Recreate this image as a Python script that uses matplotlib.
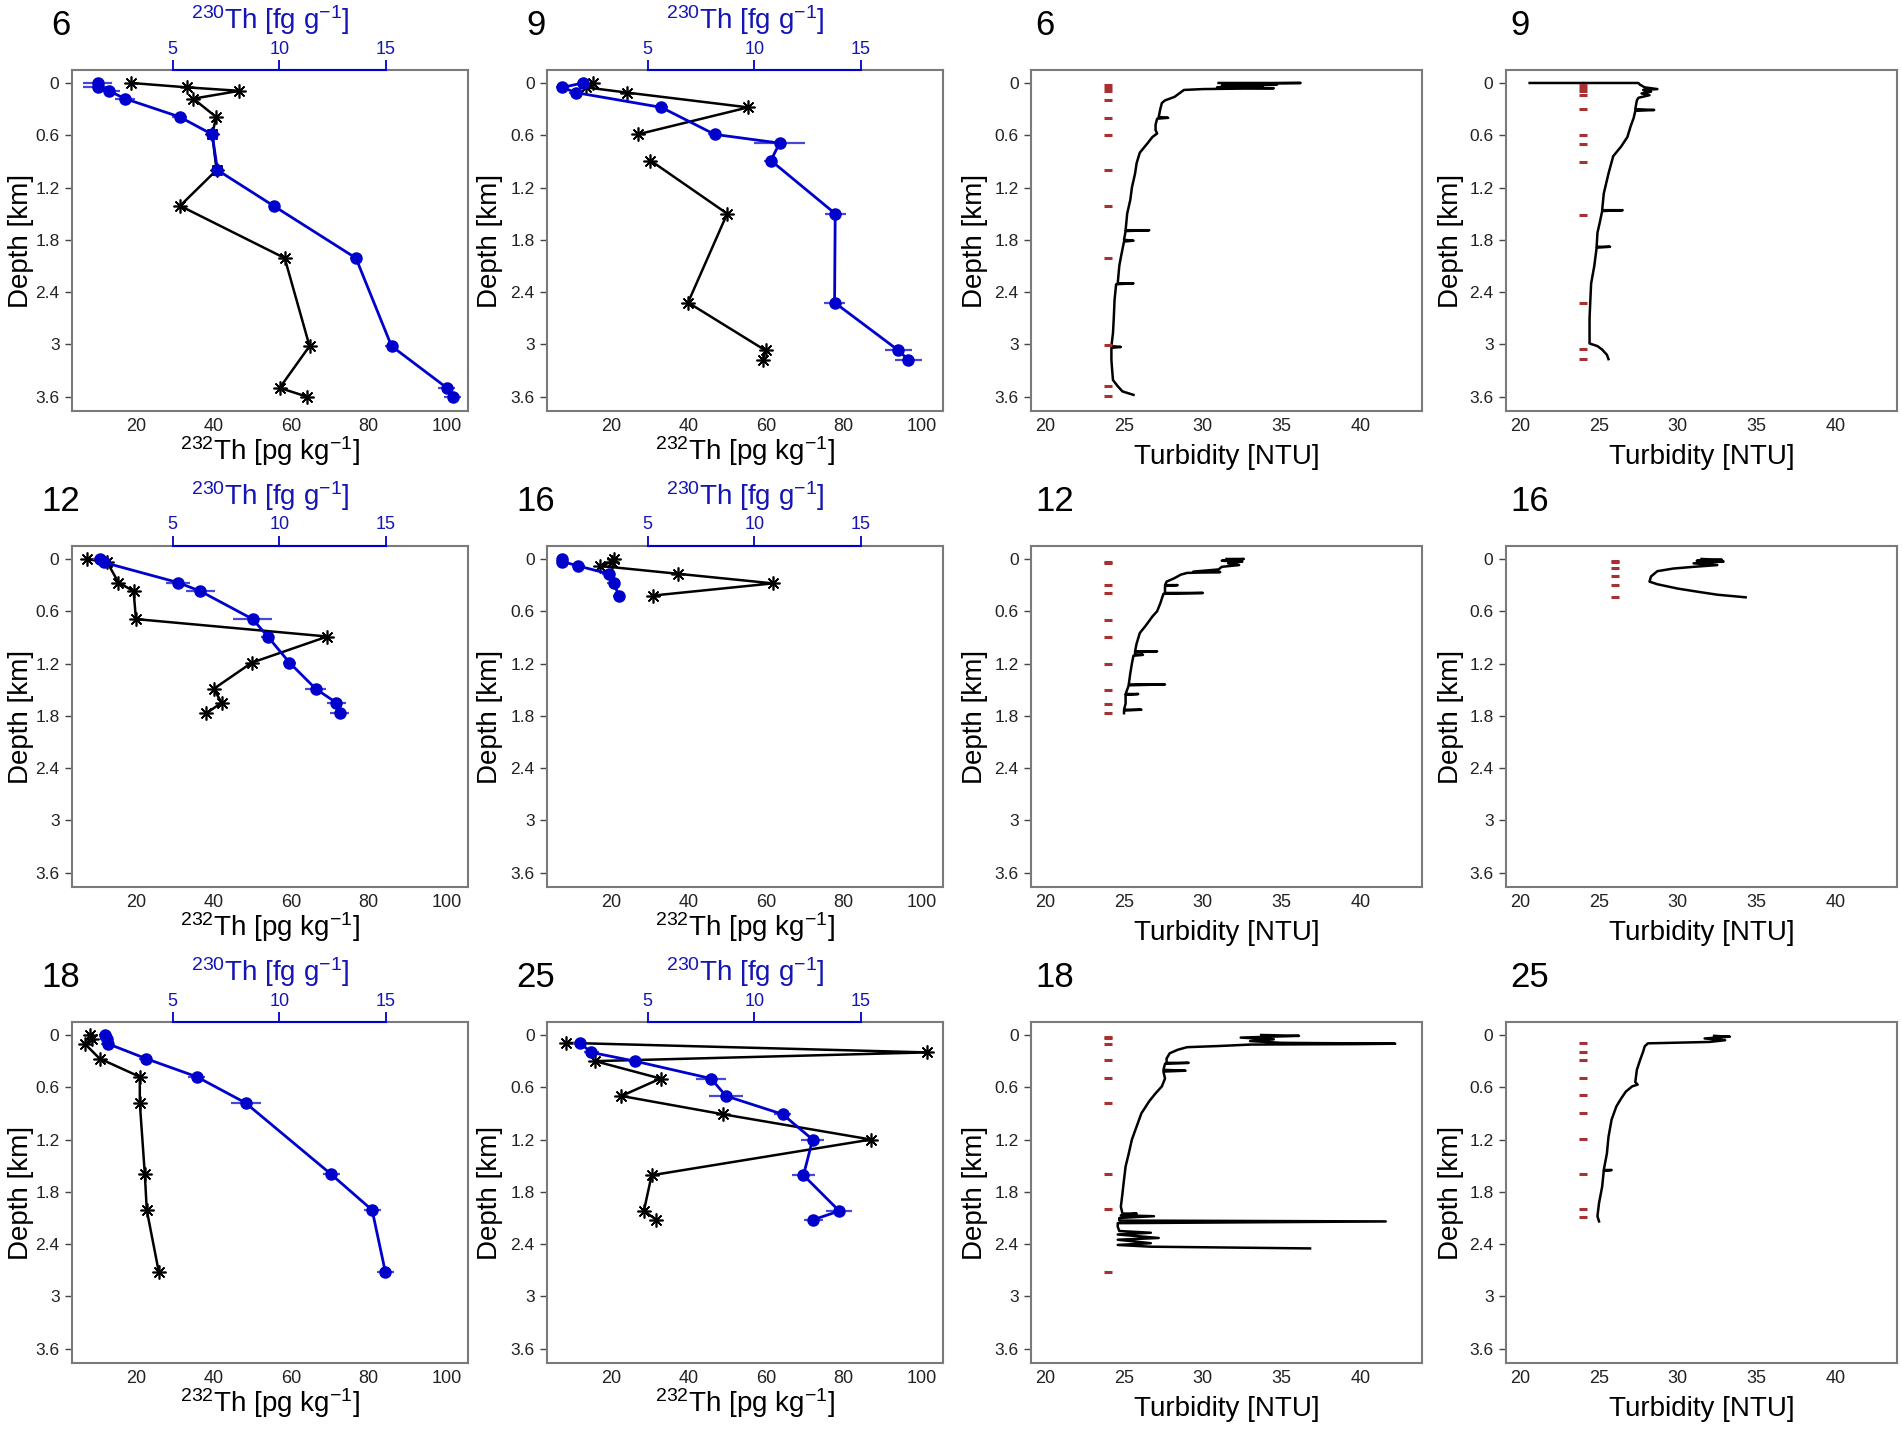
import numpy as np
import matplotlib.pyplot as plt

plt.rcParams['font.family'] = ['Liberation Sans', 'DejaVu Sans']
plt.rcParams['mathtext.default'] = 'regular'

nan = np.nan

# --- Th profiles (depth km, 232Th pg/kg, 230Th fg/g, 230Th error) ---
th6_depth = [0.0, 0.05, 0.09, 0.18, 0.39, 0.59, 1.0, 1.41, 2.01, 3.02, 3.5, 3.6]
th6_232 = [18.7, 33.0, 46.6, 34.7, 40.6, 39.6, 40.7, 31.3, 58.3, 64.7, 57.0, 64.0]
th6_230 = [1.47, 1.47, 2.0, 2.76, 5.33, 6.85, 7.1, 9.73, 13.6, 15.27, 17.87, 18.15]
th6_err = [0.7, 0.7, 0.5, 0.45, 0.35, 0.25, 0.2, 0.2, 0.3, 0.3, 0.4, 0.4]

th9_depth = [0.0, 0.05, 0.11, 0.28, 0.59, 0.69, 0.89, 1.50, 2.52, 3.07, 3.18]
th9_232 = [15.2, 13.4, 24.0, 55.3, 26.8, nan, 30.1, 49.9, 39.8, 59.8, 59.1]
th9_230 = [1.97, 0.99, 1.61, 5.64, 8.14, 11.19, 10.78, 13.8, 13.77, 16.77, 17.24]
th9_err = [0.3, 0.3, 0.3, 0.3, 0.3, 1.2, 0.3, 0.5, 0.5, 0.65, 0.65]

th12_depth = [0.0, 0.04, 0.27, 0.37, 0.69, 0.89, 1.19, 1.49, 1.65, 1.77]
th12_232 = [7.2, 12.5, 15.4, 19.3, 19.9, 69.3, 49.8, 40.0, 42.0, 38.1]
th12_230 = [1.57, 1.77, 5.24, 6.3, 8.75, 9.46, 10.48, 11.71, 12.68, 12.84]
th12_err = [0.3, 0.3, 0.57, 0.7, 0.9, 0.3, 0.3, 0.5, 0.45, 0.45]

th16_depth = [0.0, 0.03, 0.08, 0.17, 0.28, 0.42]
th16_232 = [20.6, 20.3, 17.1, 37.2, 61.7, 30.7]
th16_230 = [0.99, 0.99, 1.74, 3.16, 3.40, 3.65]
th16_err = [0.25, 0.25, 0.3, 0.3, 0.3, 0.3]

th18_depth = [0.0, 0.05, 0.1, 0.27, 0.48, 0.78, 1.6, 2.01, 2.72]
th18_232 = [8.0, 8.6, 6.7, 10.5, 20.9, 20.9, 22.2, 22.7, 25.8]
th18_230 = [1.84, 1.9, 1.95, 3.73, 6.13, 8.42, 12.44, 14.36, 14.98]
th18_err = [0.3, 0.3, 0.3, 0.3, 0.4, 0.7, 0.4, 0.4, 0.4]

th25_depth = [0.09, 0.2, 0.3, 0.5, 0.7, 0.91, 1.2, 1.61, 2.02, 2.12]
th25_232 = [8.2, 101.4, 15.8, 32.7, 22.6, 48.8, 87.0, 30.4, 28.4, 31.6]
th25_230 = [1.80, 2.35, 4.39, 7.97, 8.67, 11.33, 12.74, 12.31, 13.99, 12.78]
th25_err = [0.3, 0.35, 0.3, 0.7, 0.8, 0.4, 0.55, 0.55, 0.6, 0.45]

# --- turbidity profiles (depth km, NTU) ---
tb6_depth = [0.00, 0.00, 0.01, 0.02, 0.03, 0.04, 0.05, 0.06, 0.07, 0.08, 0.12, 0.16, 0.20, 0.23,
             0.30, 0.39, 0.40, 0.41, 0.48, 0.54, 0.58, 0.62, 0.69, 0.80, 0.92, 1.04, 1.20, 1.34,
             1.50, 1.69, 1.69, 1.70, 1.80, 1.81, 1.82, 2.00, 2.10, 2.30, 2.30, 2.31, 2.49, 2.70,
             2.87, 3.02, 3.03, 3.04, 3.18, 3.30, 3.41, 3.48, 3.54, 3.58]
tb6_ntu = [31.0, 36.2, 31.5, 34.7, 31.2, 33.8, 30.9, 34.5, 30.0, 28.8, 28.5, 28.2, 27.6, 27.4,
           27.3, 27.2, 27.8, 27.1, 27.0, 27.0, 27.1, 26.8, 26.5, 26.0, 25.8, 25.7, 25.5, 25.4,
           25.2, 25.1, 26.6, 25.1, 25.0, 25.6, 25.0, 24.8, 24.7, 24.6, 25.6, 24.5, 24.4, 24.35,
           24.3, 24.2, 24.8, 24.2, 24.2, 24.25, 24.3, 24.6, 24.9, 25.6]

tb9_depth = [0.00, 0.00, 0.02, 0.05, 0.07, 0.08, 0.10, 0.12, 0.14, 0.17, 0.20, 0.30, 0.31, 0.32,
             0.40, 0.50, 0.62, 0.73, 0.84, 1.04, 1.27, 1.46, 1.46, 1.47, 1.60, 1.72, 1.88, 1.88,
             1.89, 2.10, 2.30, 2.49, 2.70, 2.87, 2.99, 3.02, 3.06, 3.12, 3.17]
tb9_ntu = [20.6, 27.5, 27.6, 27.9, 28.7, 27.8, 28.3, 27.7, 28.2, 27.5, 27.4, 27.3, 28.5, 27.3,
           27.2, 27.0, 26.8, 26.4, 25.9, 25.6, 25.3, 25.2, 26.5, 25.2, 25.05, 24.9, 24.85, 25.7,
           24.85, 24.7, 24.5, 24.45, 24.4, 24.4, 24.4, 24.9, 25.2, 25.5, 25.6]

tb12_depth = [0.00, 0.00, 0.02, 0.03, 0.05, 0.07, 0.09, 0.12, 0.145, 0.15, 0.16, 0.18, 0.22, 0.26,
              0.30, 0.30, 0.31, 0.39, 0.39, 0.40, 0.51, 0.60, 0.66, 0.76, 0.85, 0.97, 1.06, 1.06,
              1.07, 1.10, 1.10, 1.11, 1.20, 1.31, 1.44, 1.44, 1.45, 1.55, 1.55, 1.56, 1.66, 1.73,
              1.73, 1.74, 1.77]
tb12_ntu = [31.5, 32.6, 31.2, 32.5, 31.6, 32.3, 31.2, 31.0, 29.4, 31.1, 29.0, 28.6, 28.2, 27.7,
            27.6, 28.4, 27.6, 27.6, 30.0, 27.5, 27.3, 27.1, 26.8, 26.4, 26.0, 25.8, 25.7, 27.1,
            25.7, 25.7, 26.2, 25.6, 25.5, 25.4, 25.3, 27.6, 25.3, 25.1, 25.9, 25.1, 25.1, 25.0,
            26.1, 25.0, 25.0]

tb16_depth = [0.00, 0.01, 0.02, 0.03, 0.05, 0.07, 0.09, 0.11, 0.14, 0.20, 0.26, 0.29, 0.34, 0.38,
              0.41, 0.44]
tb16_ntu = [31.5, 32.8, 31.2, 32.9, 31.0, 32.5, 31.0, 29.7, 28.7, 28.3, 28.2, 28.7, 30.0, 31.4,
            32.5, 34.3]

tb18_depth = [0.00, 0.01, 0.03, 0.05, 0.07, 0.09, 0.10, 0.105, 0.11, 0.126, 0.14, 0.17, 0.21, 0.27,
              0.32, 0.32, 0.33, 0.40, 0.41, 0.42, 0.50, 0.59, 0.67, 0.76, 0.90, 1.05, 1.20, 1.36,
              1.51, 1.66, 1.82, 1.97, 2.05, 2.05, 2.07, 2.08, 2.10, 2.13, 2.14, 2.16, 2.20, 2.25,
              2.27, 2.29, 2.33, 2.35, 2.39, 2.41, 2.43, 2.45]
tb18_ntu = [33.7, 36.1, 32.4, 34.5, 33.0, 35.0, 42.2, 39.7, 33.0, 31.1, 29.0, 28.4, 27.9, 27.7,
            27.7, 29.1, 27.6, 27.5, 28.9, 27.5, 27.6, 27.4, 27.0, 26.6, 26.1, 25.8, 25.5, 25.3,
            25.1, 25.0, 24.9, 24.8, 24.9, 25.8, 24.8, 26.9, 24.7, 24.7, 41.6, 24.6, 24.6, 24.7,
            26.7, 24.6, 27.2, 24.6, 26.7, 24.6, 26.7, 36.8]

tb25_depth = [0.01, 0.02, 0.04, 0.06, 0.08, 0.096, 0.13, 0.19, 0.29, 0.40, 0.54, 0.57, 0.59, 0.65,
              0.73, 0.82, 0.97, 1.17, 1.36, 1.55, 1.55, 1.56, 1.74, 1.93, 2.08, 2.14]
tb25_ntu = [32.3, 33.3, 31.7, 33.0, 32.0, 28.1, 27.9, 27.8, 27.6, 27.4, 27.3, 27.45, 27.1, 26.7,
            26.4, 26.1, 25.8, 25.6, 25.5, 25.3, 25.8, 25.3, 25.2, 25.0, 24.9, 25.0]

# sample depths shown as red dashes on the turbidity panels
smp6 = [0.02, 0.06, 0.09, 0.19, 0.40, 0.60, 1.0, 1.41, 2.01, 3.01, 3.48, 3.59]
smp9 = [0.02, 0.06, 0.09, 0.14, 0.30, 0.60, 0.70, 0.91, 1.51, 2.52, 3.05, 3.17]
smp12 = [0.03, 0.05, 0.30, 0.39, 0.70, 0.90, 1.20, 1.50, 1.67, 1.77]
smp16 = [0.02, 0.04, 0.10, 0.19, 0.30, 0.44]
smp18 = [0.02, 0.04, 0.10, 0.29, 0.49, 0.78, 1.59, 2.0, 2.72]
smp25 = [0.09, 0.19, 0.29, 0.49, 0.69, 0.90, 1.19, 1.59, 2.0, 2.09]
smp_ntu = {'6': 24, '9': 24, '12': 24, '16': 26, '18': 24, '25': 24}

stations = ['6', '9', '12', '16', '18', '25']
th_data = {
    '6': (th6_depth, th6_232, th6_230, th6_err),
    '9': (th9_depth, th9_232, th9_230, th9_err),
    '12': (th12_depth, th12_232, th12_230, th12_err),
    '16': (th16_depth, th16_232, th16_230, th16_err),
    '18': (th18_depth, th18_232, th18_230, th18_err),
    '25': (th25_depth, th25_232, th25_230, th25_err),
}
tb_data = {
    '6': (tb6_depth, tb6_ntu, smp6), '9': (tb9_depth, tb9_ntu, smp9),
    '12': (tb12_depth, tb12_ntu, smp12), '16': (tb16_depth, tb16_ntu, smp16),
    '18': (tb18_depth, tb18_ntu, smp18), '25': (tb25_depth, tb25_ntu, smp25),
}

depth_ticks = [0, 0.6, 1.2, 1.8, 2.4, 3.0, 3.6]
depth_labels = ['0', '0.6', '1.2', '1.8', '2.4', '3', '3.6']

W, H = 1902, 1432
BLUE = '#0000CD'
BLUE_TXT = '#1515B5'
GRID = '#7a7a7a'

fig = plt.figure(figsize=(W / 100, H / 100), dpi=100)

col_x = [72, 547, 1031, 1506]
col_w = [396, 396, 391, 391]
row_top = [70, 546, 1022]
ax_h = 341


def px(x, y):
    return x / W, 1 - y / H


def base_axes(c, r):
    l, _ = px(col_x[c], 0)
    b = 1 - (row_top[r] + ax_h) / H
    ax = fig.add_axes([l, b, col_w[c] / W, ax_h / H])
    for s in ax.spines.values():
        s.set_color(GRID)
        s.set_linewidth(1.5)
    ax.set_ylim(3.765, -0.149)
    ax.set_yticks(depth_ticks)
    ax.set_yticklabels(depth_labels)
    ax.tick_params(axis='y', length=5, width=1, pad=4, labelsize=12.5, color='#444444', labelcolor='#222222')
    ax.tick_params(axis='x', length=0, pad=5, labelsize=13, labelcolor='#222222')
    return ax


for i, st in enumerate(stations):
    r = i // 2
    # Th panel
    c = i % 2
    d, t232, t230, err = th_data[st]
    ax = base_axes(c, r)
    ax.set_xlim(3.4, 105.6)
    ax.set_xticks([20, 40, 60, 80, 100])
    ax.plot(t232, d, color='black', lw=1.8, marker=(8, 2, 0), ms=10, mew=1.2)
    ax2 = ax.twiny()
    ax2.set_xlim(0.27, 18.86)
    ax2.set_xticks([5, 10, 15])
    for s in ['left', 'right', 'bottom']:
        ax2.spines[s].set_visible(False)
    ax2.spines['top'].set_color(BLUE)
    ax2.spines['top'].set_linewidth(1.5)
    ax2.spines['top'].set_bounds(5, 15)
    ax2.tick_params(axis='x', length=7, width=1.3, pad=2, labelsize=13, color=BLUE, labelcolor=BLUE_TXT)
    ax2.errorbar(t230, d, xerr=err, fmt='none', ecolor='#4848D8', elinewidth=1.6)
    ax2.plot(t230, d, color=BLUE, lw=2, marker='o', ms=8)

    xc = col_x[c] + col_w[c] / 2
    yt = row_top[r]
    fig.text(*px(xc, yt - 50), r'$^{230}$Th [fg g$^{-1}$]', color=BLUE_TXT, fontsize=20,
             ha='center', va='center')
    fig.text(*px(xc, yt + ax_h + 40), r'$^{232}$Th [pg kg$^{-1}$]', fontsize=20,
             ha='center', va='center')
    fig.text(*px([21, 490][c], yt + ax_h / 2), 'Depth [km]', fontsize=20, rotation=90,
             ha='center', va='center')
    fig.text(*px([61, 536][c], yt - 35), st, fontsize=25, ha='center', va='baseline')

    # turbidity panel
    c = 2 + i % 2
    td, ntu, smp = tb_data[st]
    ax = base_axes(c, r)
    ax.set_xlim(19.1, 43.9)
    ax.set_xticks([20, 25, 30, 35, 40])
    ax.plot(ntu, td, color='black', lw=1.8)
    ax.plot([smp_ntu[st]] * len(smp), smp, ls='none', marker='_', ms=6, mew=2.2, color='#A83030')

    xc = col_x[c] + col_w[c] / 2
    fig.text(*px(xc, yt + ax_h + 46), 'Turbidity [NTU]', fontsize=20, ha='center', va='center')
    fig.text(*px([975, 1451][c - 2], yt + ax_h / 2), 'Depth [km]', fontsize=20, rotation=90,
             ha='center', va='center')
    fig.text(*px([1035, 1510][c - 2], yt - 35), st, fontsize=25, ha='left', va='baseline')

fig.savefig('out.png', dpi=100)
